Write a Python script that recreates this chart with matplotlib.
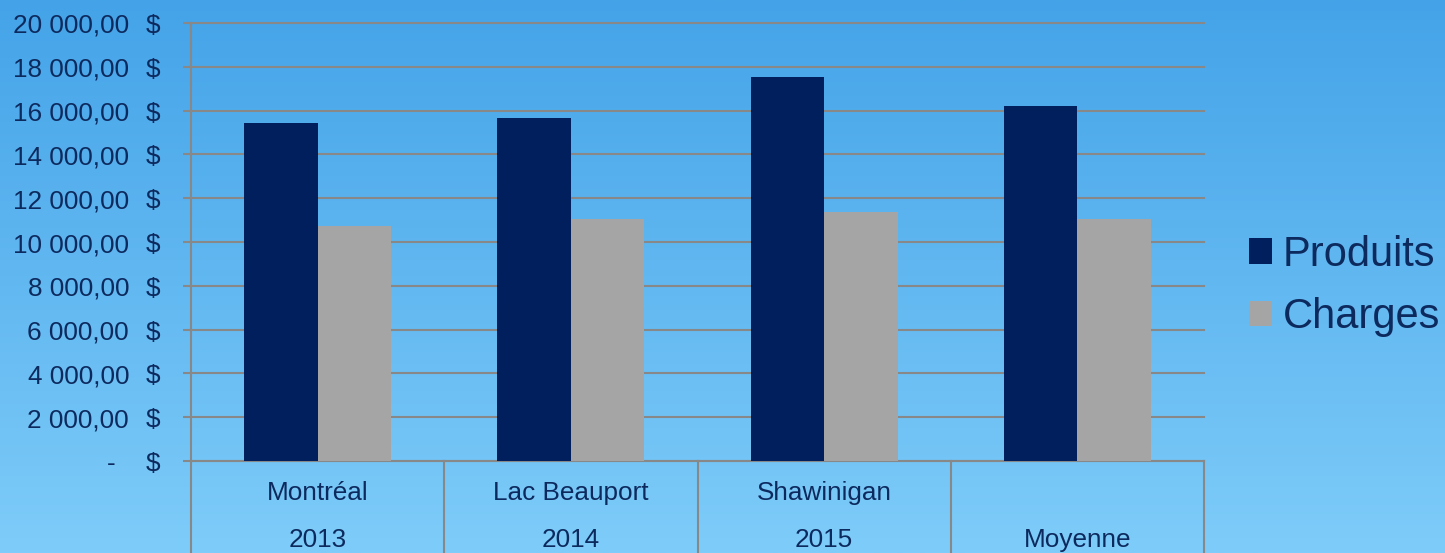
import numpy as np
import matplotlib
matplotlib.use("Agg")
import matplotlib.pyplot as plt
import matplotlib.transforms as mtransforms

plt.rcParams['font.family'] = ['Liberation Sans', 'DejaVu Sans']

# données
villes = ["Montréal", "Lac Beauport", "Shawinigan", ""]
annees = ["2013", "2014", "2015", "Moyenne"]
produits = [15430, 15660, 17530, 16210]
charges = [10730, 11050, 11370, 11050]
y_ticks = [0, 2000, 4000, 6000, 8000, 10000, 12000, 14000, 16000, 18000, 20000]

navy = "#001f5c"
gris = "#a5a5a5"
txt = "#0d2a5e"
grille = "#888888"
fs = 18.8

fig = plt.figure(figsize=(14.45, 5.53), dpi=100)

# fond dégradé
bg = fig.add_axes([0, 0, 1, 1], zorder=-10)
grad = np.linspace(0, 1, 256).reshape(-1, 1)
top = np.array([0x44, 0xa3, 0xe8]) / 255
bot = np.array([0x7e, 0xcc, 0xf9]) / 255
img = top + (bot - top) * grad[:, :, None]
bg.imshow(img, aspect="auto", extent=[0, 1, 0, 1])
bg.axis("off")

ax = fig.add_axes([191 / 1445, 92 / 553, 1013 / 1445, 438 / 553])
ax.patch.set_alpha(0)

x = np.arange(len(annees))
w = 0.29
b1 = ax.bar(x - w / 2, produits, w, color=navy, label="Produits", zorder=3)
b2 = ax.bar(x + w / 2, charges, w, color=gris, label="Charges", zorder=3)

ax.set_xlim(-0.5, len(annees) - 0.5)
ax.set_ylim(0, 20000)
ax.set_yticks(y_ticks)
ax.set_yticklabels([])
ax.set_xticks([])
ax.yaxis.grid(True, color=grille, linewidth=1.5, zorder=0)
for gl in ax.get_ygridlines():
    gl.set_clip_on(False)
ax.tick_params(axis="y", direction="out", length=6, width=1.5, color=grille)
for s in ["top", "right"]:
    ax.spines[s].set_visible(False)
for s in ["left", "bottom"]:
    ax.spines[s].set_color(grille)
    ax.spines[s].set_linewidth(1.5)

# étiquettes de l'axe y (format comptable)
ytr = mtransforms.blended_transform_factory(fig.transFigure, ax.transData)
ytr = mtransforms.offset_copy(ytr, fig=fig, y=-3, units="dots")
for v in y_ticks:
    if v == 0:
        ax.text(116 / 1445, v, "-", transform=ytr, ha="right", va="center",
                fontsize=fs, color=txt)
    else:
        s = f"{v:,.2f}".replace(",", " ").replace(".", ",")
        ax.text(129 / 1445, v, s, transform=ytr, ha="right", va="center",
                fontsize=fs, color=txt)
    ax.text(146 / 1445, v, "$", transform=ytr, ha="left", va="center",
            fontsize=fs, color=txt)

# tableau des catégories sous l'axe
xtr = mtransforms.blended_transform_factory(ax.transData, ax.transAxes)
for b in np.arange(len(annees) + 1) - 0.5:
    ax.plot([b, b], [0, -0.22], transform=xtr, color=grille, lw=1.5,
            clip_on=False)
for i in range(len(annees)):
    ax.text(x[i], -0.073, villes[i], transform=xtr, ha="center",
            va="center", fontsize=fs, color=txt)
    ax.text(x[i], -0.18, annees[i], transform=xtr, ha="center",
            va="center", fontsize=fs, color=txt)

leg = fig.legend(handles=[b1, b2], loc="center left",
                 bbox_to_anchor=(1249 / 1445, 267 / 553), frameon=False,
                 fontsize=30, handlelength=0.55, handleheight=0.55,
                 handletextpad=0.26, labelspacing=0.54, borderpad=0,
                 borderaxespad=0)
for t in leg.get_texts():
    t.set_color(txt)

fig.savefig("out.png", dpi=100)
